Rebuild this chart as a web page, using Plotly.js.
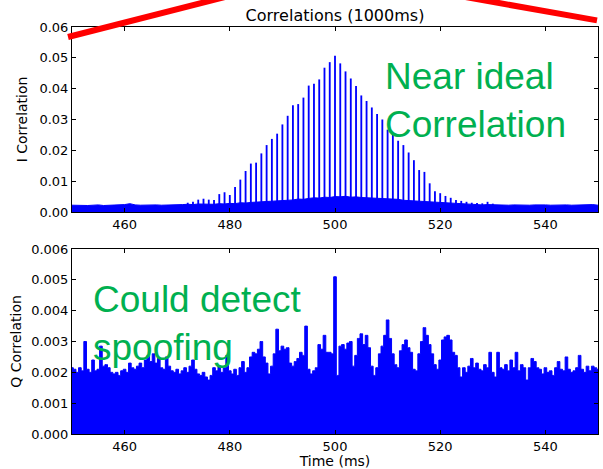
<!DOCTYPE html>
<html>
<head>
<meta charset="utf-8">
<script src="https://cdn.plot.ly/plotly-3.0.1.min.js"></script>
<style>
  html, body { margin: 0; padding: 0; background: #fff; }
  #chart { width: 603px; height: 469px; }
</style>
</head>
<body>
<div id="chart"></div>
<script>
// ---------- DATA ----------
// I correlation: noise floor envelope sampled every 1 ms, 450..550
const iFloorStartMs = 450;
const iFloorStepMs = 1;
const iFloor = [
  0.0022, 0.0021, 0.0022, 0.0021, 0.0022, 0.0023, 0.0021, 0.0022, 0.0021, 0.0022,
  0.0024, 0.0027, 0.0023, 0.0022, 0.0023, 0.0022, 0.0023, 0.0022, 0.0022, 0.0023,
  0.0022, 0.0024, 0.0025, 0.0024, 0.0026, 0.0025, 0.0026, 0.0025, 0.0027, 0.0026,
  0.0028, 0.0027, 0.0030, 0.0029, 0.0031, 0.0032, 0.0031, 0.0034, 0.0033, 0.0036,
  0.0035, 0.0038, 0.0039, 0.0042, 0.0041, 0.0044, 0.0046, 0.0045, 0.0048, 0.0047,
  0.0050, 0.0049, 0.0051, 0.0048, 0.0049, 0.0047, 0.0046, 0.0045, 0.0046, 0.0043,
  0.0044, 0.0042, 0.0041, 0.0038, 0.0037, 0.0036, 0.0034, 0.0033, 0.0031, 0.0030,
  0.0029, 0.0028, 0.0027, 0.0026, 0.0026, 0.0025, 0.0024, 0.0024, 0.0023, 0.0024,
  0.0023, 0.0022, 0.0023, 0.0022, 0.0023, 0.0022, 0.0023, 0.0022, 0.0023, 0.0024,
  0.0023, 0.0022, 0.0023, 0.0022, 0.0023, 0.0022, 0.0023, 0.0022, 0.0023, 0.0024,
  0.0022
];
// I correlation: spike times (ms) and peak values
const iSpikeMs = [
  472, 473, 474, 475, 476, 477, 478, 479, 480, 481, 482, 483, 484, 485, 486, 487,
  488, 489, 490, 491, 492, 493, 494, 495, 496, 497, 498, 499, 500, 501, 502, 503,
  504, 505, 506, 507, 508, 509, 510, 511, 512, 513, 514, 515, 516, 517, 518, 519,
  520, 521, 522, 523, 524, 525, 526, 527, 528, 529, 530
];
const iSpikeVal = [
  0.0030, 0.0033, 0.0040, 0.0043, 0.0040, 0.0039, 0.0058, 0.0064, 0.0055, 0.0081,
  0.0105, 0.0133, 0.0157, 0.0160, 0.0190, 0.0217, 0.0237, 0.0254, 0.0284, 0.0312,
  0.0346, 0.0350, 0.0371, 0.0410, 0.0416, 0.0430, 0.0468, 0.0486, 0.0507, 0.0482,
  0.0456, 0.0433, 0.0409, 0.0378, 0.0360, 0.0339, 0.0318, 0.0300, 0.0267, 0.0252,
  0.0231, 0.0217, 0.0193, 0.0168, 0.0136, 0.0130, 0.0093, 0.0067, 0.0061, 0.0052,
  0.0046, 0.0039, 0.0036, 0.0033, 0.0030, 0.0029, 0.0028, 0.0033, 0.0027
];
// Q correlation sampled every 0.5 ms, 450..550
const qStartMs = 450;
const qStepMs = 0.5;
const qVal = [
  0.00215, 0.00210, 0.00200, 0.00215, 0.00205, 0.00300, 0.00210, 0.00200, 0.00240, 0.00205,
  0.00210, 0.00285, 0.00220, 0.00225, 0.00215, 0.00200, 0.00195, 0.00200, 0.00190, 0.00205,
  0.00210, 0.00200, 0.00230, 0.00215, 0.00210, 0.00220, 0.00230, 0.00215, 0.00240, 0.00255,
  0.00235, 0.00260, 0.00230, 0.00245, 0.00215, 0.00210, 0.00250, 0.00220, 0.00205, 0.00200,
  0.00210, 0.00195, 0.00205, 0.00215, 0.00200, 0.00220, 0.00240, 0.00210, 0.00195, 0.00190,
  0.00200, 0.00185, 0.00175, 0.00190, 0.00215, 0.00205, 0.00220, 0.00200, 0.00215, 0.00255,
  0.00205, 0.00195, 0.00210, 0.00190, 0.00215, 0.00235, 0.00200, 0.00215, 0.00250, 0.00265,
  0.00260, 0.00275, 0.00300, 0.00250, 0.00230, 0.00195, 0.00220, 0.00260, 0.00340, 0.00270,
  0.00285, 0.00275, 0.00280, 0.00230, 0.00220, 0.00235, 0.00245, 0.00265, 0.00255, 0.00350,
  0.00210, 0.00195, 0.00205, 0.00215, 0.00290, 0.00275, 0.00320, 0.00265, 0.00265, 0.00260,
  0.00510, 0.00190, 0.00285, 0.00290, 0.00275, 0.00295, 0.00300, 0.00220, 0.00255, 0.00310,
  0.00325, 0.00290, 0.00320, 0.00280, 0.00220, 0.00190, 0.00215, 0.00260, 0.00285, 0.00320,
  0.00370, 0.00310, 0.00260, 0.00225, 0.00215, 0.00270, 0.00290, 0.00305, 0.00280, 0.00265,
  0.00210, 0.00205, 0.00260, 0.00300, 0.00345, 0.00320, 0.00290, 0.00260, 0.00225, 0.00210,
  0.00240, 0.00305, 0.00315, 0.00320, 0.00305, 0.00265, 0.00255, 0.00215, 0.00185, 0.00215,
  0.00200, 0.00220, 0.00245, 0.00215, 0.00230, 0.00210, 0.00205, 0.00225, 0.00215, 0.00265,
  0.00200, 0.00185, 0.00265, 0.00215, 0.00210, 0.00225, 0.00205, 0.00240, 0.00215, 0.00265,
  0.00205, 0.00225, 0.00215, 0.00175, 0.00215, 0.00245, 0.00235, 0.00215, 0.00210, 0.00195,
  0.00215, 0.00200, 0.00205, 0.00190, 0.00215, 0.00235, 0.00210, 0.00205, 0.00250, 0.00210,
  0.00200, 0.00205, 0.00215, 0.00255, 0.00210, 0.00200, 0.00220, 0.00205, 0.00220, 0.00215,
  0.00210
];
const xTicks = [460, 480, 500, 520, 540];
const iTicks = [0.00, 0.01, 0.02, 0.03, 0.04, 0.05, 0.06];
const qTicks = [0.000, 0.001, 0.002, 0.003, 0.004, 0.005, 0.006];
const titleText = 'Correlations (1000ms)';
const iLabel = 'I Correlation';
const qLabel = 'Q Correlation';
const xLabel = 'Time (ms)';
const noteTop = 'Near ideal<br>Correlation';
const noteBottom = 'Could detect<br>spoofing';

// ---------- BUILD ----------
const iFloorX = iFloor.map((_, k) => iFloorStartMs + k * iFloorStepMs);
const qX = qVal.map((_, k) => qStartMs + k * qStepMs);

const blue = '#0000ff';
const dv = 'DejaVu Sans, sans-serif';
const tickFont = { family: dv, size: 13, color: '#000' };

const traces = [
  { type: 'scatter', mode: 'lines', x: iFloorX, y: iFloor, xaxis: 'x', yaxis: 'y',
    line: { color: blue, width: 1 }, fill: 'tozeroy', fillcolor: blue, hoverinfo: 'skip' },
  { type: 'bar', x: iSpikeMs, y: iSpikeVal, xaxis: 'x', yaxis: 'y', width: 0.35,
    marker: { color: blue, line: { width: 0 } }, hoverinfo: 'skip' },
  { type: 'scatter', mode: 'lines', x: qX, y: qVal, xaxis: 'x2', yaxis: 'y2',
    line: { color: blue, width: 1, shape: 'hvh' }, fill: 'tozeroy', fillcolor: blue, hoverinfo: 'skip' }
];

const axisCommon = {
  showline: true, linecolor: '#000', linewidth: 1, mirror: 'ticks',
  ticks: 'inside', ticklen: 4, tickcolor: '#000', tickwidth: 1,
  showgrid: false, zeroline: false, tickfont: tickFont
};

const layout = {
  width: 603, height: 469,
  margin: { l: 72, r: 5, t: 27, b: 35, pad: 0 },
  paper_bgcolor: '#fff', plot_bgcolor: '#fff',
  showlegend: false,
  title: { text: titleText, x: 0.5, xref: 'paper', xanchor: 'center',
           y: 1 - 15 / 469, yref: 'container', yanchor: 'middle',
           font: { family: dv, size: 16, color: '#000' } },
  xaxis: Object.assign({}, axisCommon, { domain: [0, 1], range: [450, 550],
           tickvals: xTicks, anchor: 'y' }),
  yaxis: Object.assign({}, axisCommon, { domain: [0.5455, 1], range: [0, 0.06],
           tickvals: iTicks, tickformat: '.2f', anchor: 'x',
           title: { text: iLabel, standoff: 8, font: { family: dv, size: 14, color: '#000' } } }),
  xaxis2: Object.assign({}, axisCommon, { domain: [0, 1], range: [450, 550],
           tickvals: xTicks, anchor: 'y2',
           title: { text: xLabel, standoff: 3, font: { family: dv, size: 14, color: '#000' } } }),
  yaxis2: Object.assign({}, axisCommon, { domain: [0, 0.4545], range: [0, 0.006],
           tickvals: qTicks, tickformat: '.3f', anchor: 'x2',
           title: { text: qLabel, standoff: 6, font: { family: dv, size: 14, color: '#000' } } }),
  annotations: [
    { text: noteTop, xref: 'paper', yref: 'paper', x: 0.591, y: 0.819,
      xanchor: 'left', yanchor: 'middle', align: 'left', showarrow: false,
      font: { family: 'Liberation Sans, Arial, sans-serif', size: 37, color: '#00b050' } },
    { text: noteBottom, xref: 'paper', yref: 'paper', x: 0.036, y: 0.2727,
      xanchor: 'left', yanchor: 'middle', align: 'left', showarrow: false,
      font: { family: 'Liberation Sans, Arial, sans-serif', size: 37, color: '#00b050' } }
  ],
  shapes: [
    { type: 'line', xref: 'paper', yref: 'paper', x0: -0.0076, y0: 0.9754, x1: 0.3384, y1: 1.0894,
      line: { color: '#ff0000', width: 6 } },
    { type: 'line', xref: 'paper', yref: 'paper', x0: 0.6996, y0: 1.0848, x1: 0.9981, y1: 1.0162,
      line: { color: '#ff0000', width: 6 } }
  ]
};

Plotly.newPlot('chart', traces, layout, { staticPlot: true, displayModeBar: false });
</script>
</body>
</html>
